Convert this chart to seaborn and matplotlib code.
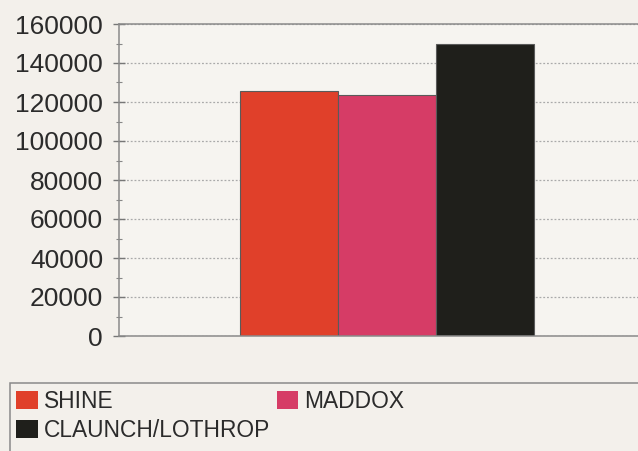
import pandas as pd
import seaborn as sns
import matplotlib.pyplot as plt
from matplotlib.patches import Rectangle
from matplotlib.ticker import MultipleLocator

candidates = ["SHINE", "MADDOX", "CLAUNCH/LOTHROP"]
votes = [125500, 123500, 150000]
colors = ["#e0402a", "#d63c66", "#1f1f1b"]
yticks = [0, 20000, 40000, 60000, 80000, 100000, 120000, 140000, 160000]

df = pd.DataFrame({"group": ["all"] * 3, "candidate": candidates, "votes": votes})

sns.set_style("white")
plt.rcParams["font.family"] = ["Liberation Sans", "DejaVu Sans"]
text_col = "#2b2b2b"
bg = "#f3f0eb"

fig = plt.figure(figsize=(6.38, 4.51), dpi=100, facecolor=bg)
ax = fig.add_axes([119 / 638, 115 / 451, 1 - 119 / 638, 312 / 451])
ax.set_facecolor("#f6f4f0")

sns.barplot(data=df, x="group", y="votes", hue="candidate", hue_order=candidates,
            palette=colors, saturation=1, width=0.8, edgecolor="#5a5a5a",
            linewidth=0.8, legend=False, ax=ax)

ax.set_xlim(-0.729, 0.683)
ax.set_ylim(0, 160000)
ax.set_yticks(yticks)
ax.set_yticklabels([str(v) for v in yticks], fontsize=19, color=text_col)
ax.yaxis.set_minor_locator(MultipleLocator(10000))
ax.tick_params(axis="y", which="major", direction="inout", length=9, width=1, color="#777", left=True, pad=7)
ax.tick_params(axis="y", which="minor", direction="inout", length=5, width=0.8, color="#888", left=True)
ax.set_xticks([])
ax.set_xlabel("")
ax.set_ylabel("")

ax.grid(axis="y", which="major", linestyle=(0, (1.5, 1.5)), color="#aaaaaa", linewidth=0.9)
ax.set_axisbelow(True)
ax.spines["right"].set_visible(False)
for side in ["left", "bottom", "top"]:
    ax.spines[side].set_color("#8a8a8a")
    ax.spines[side].set_linewidth(1.1)

# legend box, runs off the page on right and bottom like the scan
fig.patches.append(Rectangle((10 / 638, -0.1), 1.0, (451 - 383) / 451 + 0.1,
                             transform=fig.transFigure, fill=False,
                             edgecolor="#8a8a8a", linewidth=1.1))

handles = [Rectangle((0, 0), 1, 1, facecolor=c, edgecolor="none") for c in colors]
order = [0, 2, 1]
leg = fig.legend([handles[i] for i in order], [candidates[i] for i in order],
                 loc="upper left", bbox_to_anchor=(14 / 638, 1 - 388 / 451),
                 ncol=2, frameon=False, fontsize=16.4, handlelength=0.95,
                 handleheight=0.85, handletextpad=0.25, columnspacing=0.3,
                 labelspacing=0.25, borderpad=0.1, borderaxespad=0)
for t in leg.get_texts():
    t.set_color(text_col)

fig.savefig("out.png", dpi=100, facecolor=bg)
